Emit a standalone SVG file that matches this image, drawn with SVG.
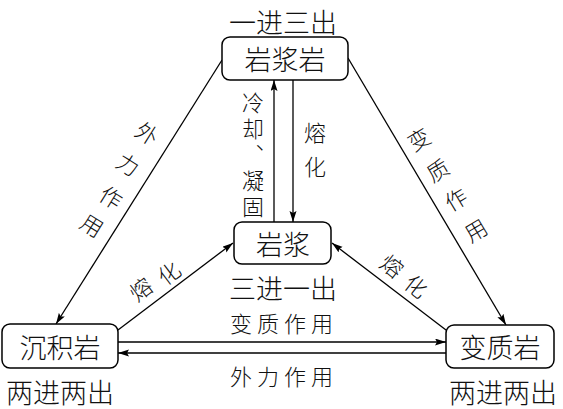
<svg xmlns="http://www.w3.org/2000/svg" width="563" height="409" viewBox="0 0 563 409">
<style>
.box{fill:#fff;stroke:#000;stroke-width:1.5}
.t{font-family:"Noto Sans CJK SC","Noto Sans",sans-serif;font-weight:300;fill:#111;text-anchor:middle;dominant-baseline:central}
.n{font-size:27px}
.s{font-size:27px}
.e{font-size:22px}
.v{writing-mode:vertical-rl;text-anchor:start;font-feature-settings:"vert" 0}
.ln{stroke:#000;stroke-width:1.3;fill:none}
</style>
<defs>
<marker id="ah" markerUnits="userSpaceOnUse" markerWidth="12" markerHeight="8" refX="11" refY="3.5" orient="auto">
<path d="M0,0 L11,3.5 L0,7 L2,3.5 z" fill="#000"/>
</marker>
</defs>
<rect width="563" height="409" fill="#fff"/>
<g id="connectors">
<line class="ln" x1="274" y1="222" x2="274" y2="80" marker-end="url(#ah)"/>
<line class="ln" x1="293" y1="80" x2="293" y2="222" marker-end="url(#ah)"/>
<line class="ln" x1="222" y1="60" x2="56" y2="324" marker-end="url(#ah)"/>
<line class="ln" x1="348" y1="58" x2="506" y2="325" marker-end="url(#ah)"/>
<line class="ln" x1="118" y1="330" x2="233" y2="243" marker-end="url(#ah)"/>
<line class="ln" x1="446" y1="330" x2="332" y2="243" marker-end="url(#ah)"/>
<line class="ln" x1="118" y1="342" x2="446" y2="342" marker-end="url(#ah)"/>
<line class="ln" x1="446" y1="353" x2="118" y2="353" marker-end="url(#ah)"/>
</g>
<g id="edge-labels" class="t e">
<text class="v" x="253" y="92" letter-spacing="4">冷却、凝固</text>
<text class="v" x="315" y="122" letter-spacing="12">熔化</text>
<text transform="translate(148,132) rotate(32)">外</text>
<text transform="translate(129,163) rotate(32)">力</text>
<text transform="translate(112,196) rotate(32)">作</text>
<text transform="translate(93,224) rotate(32)">用</text>
<text transform="translate(418,138) rotate(-31)">变</text>
<text transform="translate(437,169) rotate(-31)">质</text>
<text transform="translate(455,198) rotate(-31)">作</text>
<text transform="translate(475,229) rotate(-31)">用</text>
<text transform="translate(140,288) rotate(-37)">熔</text>
<text transform="translate(168,272) rotate(-37)">化</text>
<text transform="translate(393,265) rotate(38)">熔</text>
<text transform="translate(417,285) rotate(38)">化</text>
<text x="284" y="322" letter-spacing="5">变质作用</text>
<text x="284" y="375" letter-spacing="5">外力作用</text>
</g>
<g id="node-igneous">
<rect class="box" x="222" y="37" width="126" height="43" rx="8"/>
<text class="t n" x="285" y="58">岩浆岩</text>
<text class="t s" x="283" y="21">一进三出</text>
</g>
<g id="node-magma">
<rect class="box" x="234" y="222" width="97" height="42" rx="8"/>
<text class="t n" x="283" y="243">岩浆</text>
<text class="t s" x="283" y="287">三进一出</text>
</g>
<g id="node-sedimentary">
<rect class="box" x="2" y="324" width="116" height="44" rx="8"/>
<text class="t n" x="60" y="346">沉积岩</text>
<text class="t s" x="60" y="391">两进两出</text>
</g>
<g id="node-metamorphic">
<rect class="box" x="446" y="325" width="108" height="43" rx="8"/>
<text class="t n" x="500" y="346">变质岩</text>
<text class="t s" x="503" y="391">两进两出</text>
</g>
</svg>
